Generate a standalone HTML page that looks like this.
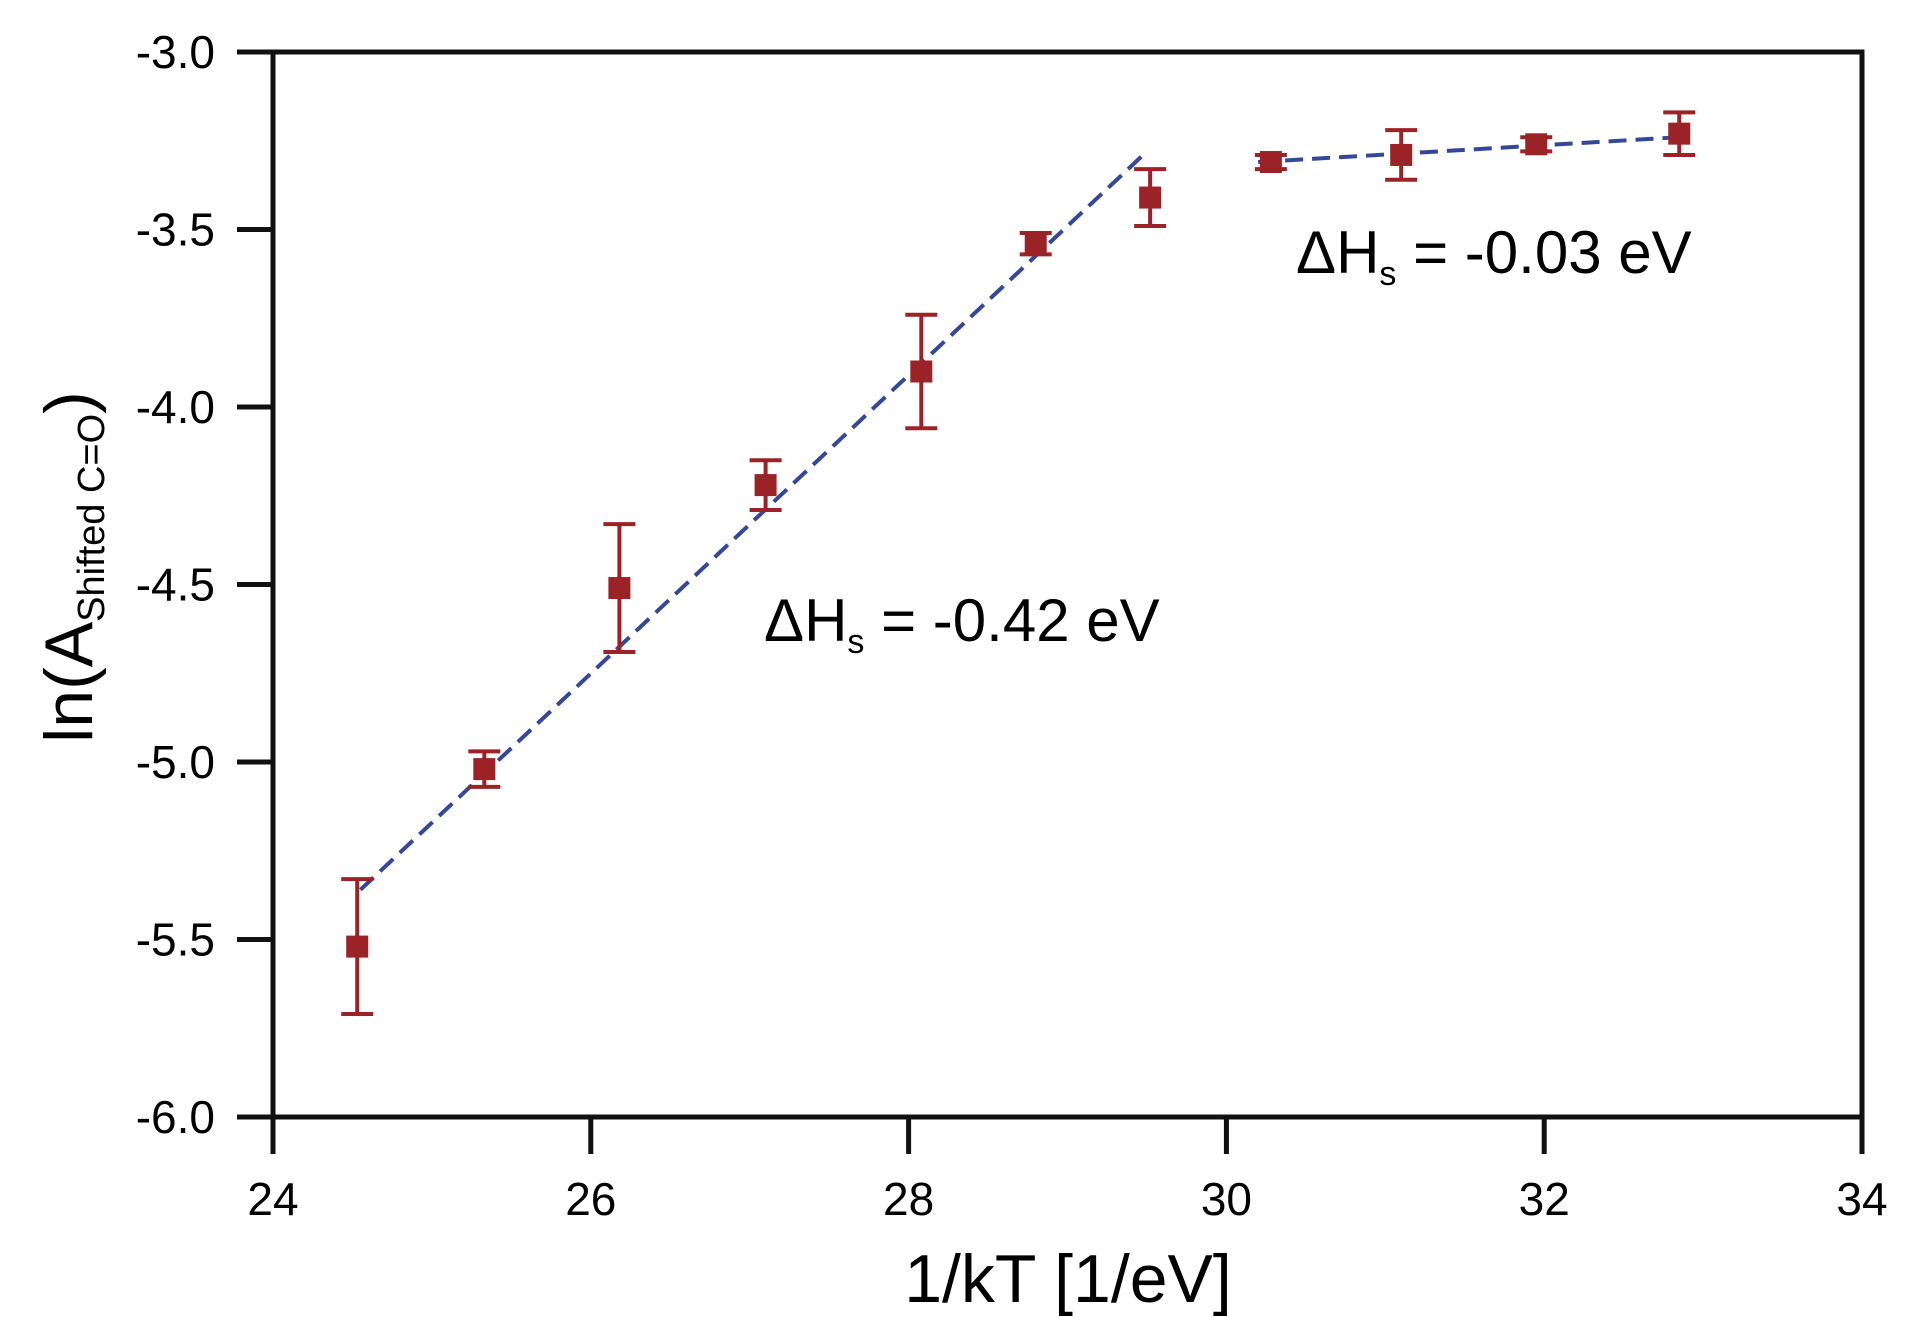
<!DOCTYPE html>
<html><head><meta charset="utf-8"><style>
html,body{margin:0;padding:0;background:#fff;}
svg{display:block;font-family:"Liberation Sans",Arial,sans-serif;}
</style></head><body>
<svg id="chart" width="1922" height="1336" xmlns="http://www.w3.org/2000/svg">
<g id="axes"></g>
<g id="fits"></g>
<g id="pts"></g>
<text x="764" y="641" font-size="60">ΔH<tspan font-size="34" dy="12">s</tspan><tspan dy="-12"> = -0.42 eV</tspan></text>
<text x="1296" y="273" font-size="60">ΔH<tspan font-size="34" dy="12">s</tspan><tspan dy="-12"> = -0.03 eV</tspan></text>
<text x="1068" y="1302" font-size="68" text-anchor="middle">1/kT [1/eV]</text>
<text transform="translate(92,567) rotate(-90)" font-size="68" text-anchor="middle">ln(A<tspan font-size="38" dy="12">Shifted C=O</tspan><tspan dy="-12">)</tspan></text>
</svg>
<script>
const xVals=[24.53,25.33,26.18,27.1,28.08,28.8,29.52,30.28,31.1,31.95,32.85];
const yVals=[-5.52,-5.02,-4.51,-4.22,-3.9,-3.54,-3.41,-3.31,-3.29,-3.26,-3.23];
const yErr=[0.19,0.05,0.18,0.07,0.16,0.03,0.08,0.02,0.07,0.02,0.06];
const fit1X=[24.55,29.5], fit1Y=[-5.36,-3.28];
const fit2X=[30.2,32.85], fit2Y=[-3.31,-3.24];
const xTicks=[24,26,28,30,32,34];
const yTicks=[-3.0,-3.5,-4.0,-4.5,-5.0,-5.5,-6.0];
const X0=273,X1=1862,Y0=52,Y1=1117;
const sx=v=>X0+(v-24)/10*(X1-X0);
const sy=v=>Y0+(-3-v)/3*(Y1-Y0);
const NS="http://www.w3.org/2000/svg";
function mk(p,t,a){const e=document.createElementNS(NS,t);for(const k in a)e.setAttribute(k,a[k]);p.appendChild(e);return e;}
const ax=document.getElementById('axes');
const frame=mk(ax,'rect',{x:X0,y:Y0,width:X1-X0,height:Y1-Y0,fill:'none',stroke:'#111','stroke-width':5});


xTicks.forEach(t=>{
 const l=mk(ax,'line',{x1:sx(t),x2:sx(t),y1:Y1,y2:Y1+37,stroke:'#111','stroke-width':5});
 
 
 const tx=mk(ax,'text',{x:sx(t),y:Y1+98,'font-size':46,'text-anchor':'middle'});
 tx.textContent=t;
 
 
});
yTicks.forEach(t=>{
 const l=mk(ax,'line',{x1:X0-36,x2:X0,y1:sy(t),y2:sy(t),stroke:'#111','stroke-width':5});
 
 
 const tx=mk(ax,'text',{x:X0-58,y:sy(t)+16,'font-size':46,'text-anchor':'end'});
 tx.textContent=t.toFixed(1);
 
 
});
const fg=document.getElementById('fits');
[[fit1X,fit1Y],[fit2X,fit2Y]].forEach(([fx,fy])=>{
 const l=mk(fg,'line',{x1:sx(fx[0]),y1:sy(fy[0]),x2:sx(fx[1]),y2:sy(fy[1]),stroke:'#34479a','stroke-width':4,'stroke-dasharray':'18 9'});
 
 
});
const pg=document.getElementById('pts');
const C='#9b2226';
xVals.forEach((x,i)=>{
 const cx=sx(x),y=yVals[i],t=sy(y+yErr[i]),b=sy(y-yErr[i]);
 const g=mk(pg,'g',{});
 
 
 mk(g,'line',{x1:cx,x2:cx,y1:t,y2:b,stroke:C,'stroke-width':4});
 mk(g,'line',{x1:cx-16,x2:cx+16,y1:t,y2:t,stroke:C,'stroke-width':4});
 mk(g,'line',{x1:cx-16,x2:cx+16,y1:b,y2:b,stroke:C,'stroke-width':4});
 mk(g,'rect',{x:cx-11,y:sy(y)-11,width:22,height:22,fill:C});
});
</script>
</body></html>
